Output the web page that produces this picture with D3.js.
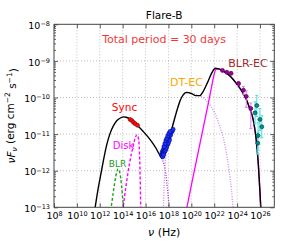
<!DOCTYPE html>
<meta charset="utf-8">
<head>
<script src="https://d3js.org/d3.v7.min.js"></script>
<style>
body { margin: 0; background: #fff; }
text { font-family: "DejaVu Sans", sans-serif; }
.grid line { stroke: #b0b0b0; stroke-dasharray: 1,2; stroke-width: 0.8; }
.axis path { display: none; }
.axis line { stroke: #333; stroke-width: 0.8; }
</style>
</head>
<body>
<script>

// values are log10(nu / Hz), log10(nuFnu / erg cm^-2 s^-1)
var totalModel = [[11.55,-13.1],[11.8,-12.6],[12.0,-12.25],[12.3,-11.75],[12.6,-11.3],[12.9,-10.98],
  [13.2,-10.77],[13.5,-10.63],[13.8,-10.56],[14.1,-10.53],[14.3,-10.54],[14.7,-10.6],[15.2,-10.74],
  [15.8,-10.93],[16.4,-11.15],[16.9,-11.38],[17.2,-11.55],[17.45,-11.65],[17.6,-11.55],[17.9,-11.25],
  [18.3,-10.85],[18.7,-10.4],[19.0,-10.1],[19.3,-9.92],[19.6,-9.86],[20.0,-9.89],[20.4,-9.95],
  [20.75,-9.95],[21.0,-9.85],[21.4,-9.6],[21.8,-9.32],[22.1,-9.2],[22.4,-9.22],[22.9,-9.3],
  [23.4,-9.42],[23.9,-9.6],[24.4,-9.82],[24.8,-10.05],[25.1,-10.3],[25.4,-10.6],[25.65,-11.1],
  [25.85,-11.8],[26.0,-12.6],[26.1,-13.2]];
var blrModel = [[12.95,-13.1],[13.2,-12.55],[13.4,-12.15],[13.6,-11.95],[13.75,-12.05],[13.9,-12.4],
  [14.0,-12.75],[14.1,-13.1]];
var diskModel = [[14.0,-13.1],[14.3,-12.4],[14.6,-11.8],[14.9,-11.35],[15.1,-11.1],[15.25,-11.02],
  [15.38,-11.12],[15.47,-11.5],[15.53,-12.2],[15.58,-13.1]];
var syncTail = [[17.3,-11.6],[17.5,-11.72],[17.7,-11.95],[17.85,-12.3],[17.98,-12.7],[18.1,-13.1]];
var dtecModel = [[17.55,-13.1],[17.62,-12.4],[17.72,-11.8],[17.87,-11.35],[18.2,-10.95],[18.6,-10.48],
  [19.0,-10.1],[19.4,-9.9],[19.9,-9.88],[20.5,-9.93],[21.0,-10.0],[21.5,-10.15],[22.0,-10.4],
  [22.5,-10.8],[23.0,-11.4],[23.3,-12.0],[23.5,-12.5],[23.67,-13.1]];
var blrecModel = [[19.55,-13.1],[20.0,-12.4],[20.5,-11.64],[21.0,-10.89],[21.5,-10.13],[21.8,-9.66],
  [22.0,-9.36],[22.15,-9.23],[22.4,-9.22],[22.9,-9.3],[23.4,-9.42],[23.9,-9.6],[24.4,-9.82],
  [24.8,-10.05],[25.1,-10.3],[25.4,-10.6],[25.65,-11.1],[25.85,-11.8],[26.0,-12.6],[26.1,-13.2]];

var syncData = [[14.65,-10.6],[14.8,-10.63],[14.95,-10.68],[15.1,-10.72],[15.3,-10.76]];
var xrayData = [[17.40,-11.58],[17.45,-11.50],[17.48,-11.60],[17.52,-11.45],[17.55,-11.52],[17.60,-11.40],
  [17.63,-11.48],[17.68,-11.33],[17.72,-11.40],[17.76,-11.27],[17.80,-11.34],[17.85,-11.20],
  [17.88,-11.28],[17.93,-11.13],[17.97,-11.20],[18.02,-11.07],[18.06,-11.12],[18.12,-11.00],
  [18.18,-11.03],[18.25,-10.95],[18.32,-10.92],[18.40,-10.87],
  [17.50,-11.62],[17.58,-11.56],[17.66,-11.47],[17.74,-11.44],[17.82,-11.38],[17.90,-11.30],
  [17.98,-11.25],[18.08,-11.17],[17.62,-11.34],[17.70,-11.26],[17.78,-11.18],[17.86,-11.12],
  [17.95,-11.05],[18.05,-10.98],[18.15,-10.93]];
// [lognu, logF, err up, err down]
var fermiData = [[22.72,-9.26,0.03,0.03],[23.10,-9.31,0.03,0.03],[23.47,-9.34,0.04,0.04],
  [24.13,-9.62,0.05,0.05],[24.55,-9.80,0.1,0.12],[24.80,-9.97,0.15,0.3],[25.20,-10.30,0.15,0.55]];
var vheData = [[25.57,-10.42,0.3,0.3],[25.72,-10.22,0.28,0.3],[25.99,-10.60,0.3,0.3],
  [26.16,-10.80,0.3,0.3],[25.83,-11.04,0.35,0.4],[25.80,-11.25,0.3,0.3]];

var xTickExp = [8,10,12,14,16,18,20,22,24,26];
var yTickExp = [-8,-9,-10,-11,-12,-13];

var margin = {top: 24.3, right: 30.7, bottom: 37.7, left: 54},
    width = 305 - margin.left - margin.right,
    height = 245 - margin.top - margin.bottom;

var x = d3.scaleLog().domain([1e8, Math.pow(10, 27.25)]).range([0, width]);
var y = d3.scaleLog().domain([1e-13, 1e-8]).range([height, 0]);
var p10 = function(v) { return Math.pow(10, v); };

var svg = d3.select("body").append("svg")
    .attr("width", 305).attr("height", 245)
  .append("g")
    .attr("transform", "translate(" + margin.left + "," + margin.top + ")");

svg.append("defs").append("clipPath").attr("id", "clip")
  .append("rect").attr("width", width).attr("height", height);

// grid
var grid = svg.append("g").attr("class", "grid");
grid.selectAll(".gx").data(xTickExp.slice(1)).enter().append("line")
    .attr("x1", function(d) { return x(p10(d)); }).attr("x2", function(d) { return x(p10(d)); })
    .attr("y1", 0).attr("y2", height);
grid.selectAll(".gy").data(yTickExp.slice(1, 5)).enter().append("line")
    .attr("y1", function(d) { return y(p10(d)); }).attr("y2", function(d) { return y(p10(d)); })
    .attr("x1", 0).attr("x2", width);

// model curves
var line = d3.line()
    .x(function(d) { return x(p10(d[0])); })
    .y(function(d) { return y(p10(d[1])); })
    .curve(d3.curveMonotoneX);
var curves = svg.append("g").attr("clip-path", "url(#clip)");
function curve(data, color, w, dash) {
  curves.append("path").datum(data).attr("d", line)
    .attr("fill", "none").attr("stroke", color).attr("stroke-width", w)
    .attr("stroke-dasharray", dash);
}
curve(blrModel, "#22a022", 1.4, "3,2");
curve(diskModel, "#ff00ff", 1.4, "3,2");
curve(syncTail, "#b030d0", 1.4, "1,1.5");
curve(dtecModel, "#c890ee", 1.4, "1,1.5");
curve(blrecModel, "#ff00ff", 1.3, null);
curve(totalModel, "#000", 1.4, null);

// data points
var pts = svg.append("g");
function errbars(data, color) {
  var g = pts.append("g").attr("stroke", color).attr("stroke-width", 1);
  data.forEach(function(d) {
    var cx = x(p10(d[0])), top = y(p10(d[1] + d[2])), bot = y(p10(d[1] - d[3]));
    g.append("line").attr("x1", cx).attr("x2", cx).attr("y1", top).attr("y2", bot);
    g.append("line").attr("x1", cx - 1.5).attr("x2", cx + 1.5).attr("y1", top).attr("y2", top);
    g.append("line").attr("x1", cx - 1.5).attr("x2", cx + 1.5).attr("y1", bot).attr("y2", bot);
  });
}
function dots(data, fill, edge, r) {
  pts.append("g").selectAll("circle").data(data).enter().append("circle")
    .attr("cx", function(d) { return x(p10(d[0])); })
    .attr("cy", function(d) { return y(p10(d[1])); })
    .attr("r", r).attr("fill", fill).attr("stroke", edge).attr("stroke-width", 0.6);
}
dots(syncData, "#ff1010", "#800000", 2);
dots(xrayData, "#1a35ff", "#000080", 2.1);
errbars(fermiData, "#e080e0");
dots(fermiData, "#a000a0", "#400040", 2);
errbars(vheData, "#40e0e0");
dots(vheData, "#009090", "#003030", 2);

// axes
function supLabel(sel, expFn) {
  sel.text(null).each(function(d) {
    var t = d3.select(this);
    t.append("tspan").text("10");
    t.append("tspan").attr("dy", "-0.45em").style("font-size", "6.5px").text(expFn(d));
  });
}
var ax = svg.append("g").attr("class", "axis").attr("transform", "translate(0," + height + ")")
  .call(d3.axisBottom(x).tickValues(xTickExp.map(p10)).tickSize(-4).tickPadding(5));
ax.selectAll("text").style("font-size", "9.5px").attr("fill", "#000")
  .call(supLabel, function(d) { return Math.round(Math.log10(d)); });
svg.append("g").attr("class", "axis")
  .call(d3.axisTop(x).tickValues(xTickExp.map(p10)).tickSize(-4).tickFormat(""));

var minorY = [];
yTickExp.slice(1).forEach(function(e) { for (var k = 2; k < 10; k++) minorY.push(k * p10(e)); });

var ay = svg.append("g").attr("class", "axis")
  .call(d3.axisLeft(y).tickValues(yTickExp.map(p10)).tickSize(-4).tickPadding(4));
ay.selectAll("text").style("font-size", "9.5px").attr("fill", "#000").attr("dy", "0.45em")
  .call(supLabel, function(d) { return "\u2212" + Math.round(-Math.log10(d)); });
svg.append("g").attr("class", "axis")
  .call(d3.axisLeft(y).tickValues(minorY).tickSize(-2).tickFormat(""));
svg.append("g").attr("class", "axis").attr("transform", "translate(" + width + ",0)")
  .call(d3.axisRight(y).tickValues(yTickExp.map(p10)).tickSize(-4).tickFormat(""));
svg.append("g").attr("class", "axis").attr("transform", "translate(" + width + ",0)")
  .call(d3.axisRight(y).tickValues(minorY).tickSize(-2).tickFormat(""));

svg.append("rect").attr("width", width).attr("height", height)
  .attr("fill", "none").attr("stroke", "#444").attr("stroke-width", 1);

// labels
svg.append("text").attr("x", width / 2).attr("y", -5).attr("text-anchor", "middle")
  .style("font-size", "10.5px").text("Flare-B");
svg.append("text").attr("x", width / 2).attr("y", 19).attr("text-anchor", "middle")
  .style("font-size", "11px").attr("fill", "#ee3b3b").text("Total period = 30 days");

function note(txt, cx, cy, color, size) {
  svg.append("text").attr("x", cx - margin.left).attr("y", cy - margin.top)
    .attr("dy", "0.35em").attr("text-anchor", "middle")
    .style("font-size", size + "px").attr("fill", color).text(txt);
}
note("BLR-EC", 248, 62.7, "#a52a2a", 11);
note("DT-EC", 186.5, 82, "#ffa500", 11);
note("Sync", 124.5, 107, "#ff0000", 10.5);
note("Disk", 123.5, 146, "#ff00ff", 10);
note("BLR", 117.5, 164, "#229922", 9);

var xl = svg.append("text").attr("x", width / 2).attr("y", height + 29)
  .attr("text-anchor", "middle").style("font-size", "11px");
xl.append("tspan").style("font-style", "italic").text("\u03bd");
xl.append("tspan").text(" (Hz)");

var yl = svg.append("text").attr("transform", "rotate(-90)")
  .attr("x", -height / 2).attr("y", -39).attr("text-anchor", "middle").style("font-size", "10.5px");
yl.append("tspan").style("font-style", "italic").text("\u03bdF");
yl.append("tspan").attr("dy", "0.3em").style("font-size", "7.5px").style("font-style", "italic").text("\u03bd");
yl.append("tspan").attr("dy", "-0.3em").text(" (erg cm");
yl.append("tspan").attr("dy", "-0.5em").style("font-size", "7.5px").text("\u22122");
yl.append("tspan").attr("dy", "0.5em").text(" s");
yl.append("tspan").attr("dy", "-0.5em").style("font-size", "7.5px").text("\u22121");
yl.append("tspan").attr("dy", "0.5em").text(")");

</script>
</body>
